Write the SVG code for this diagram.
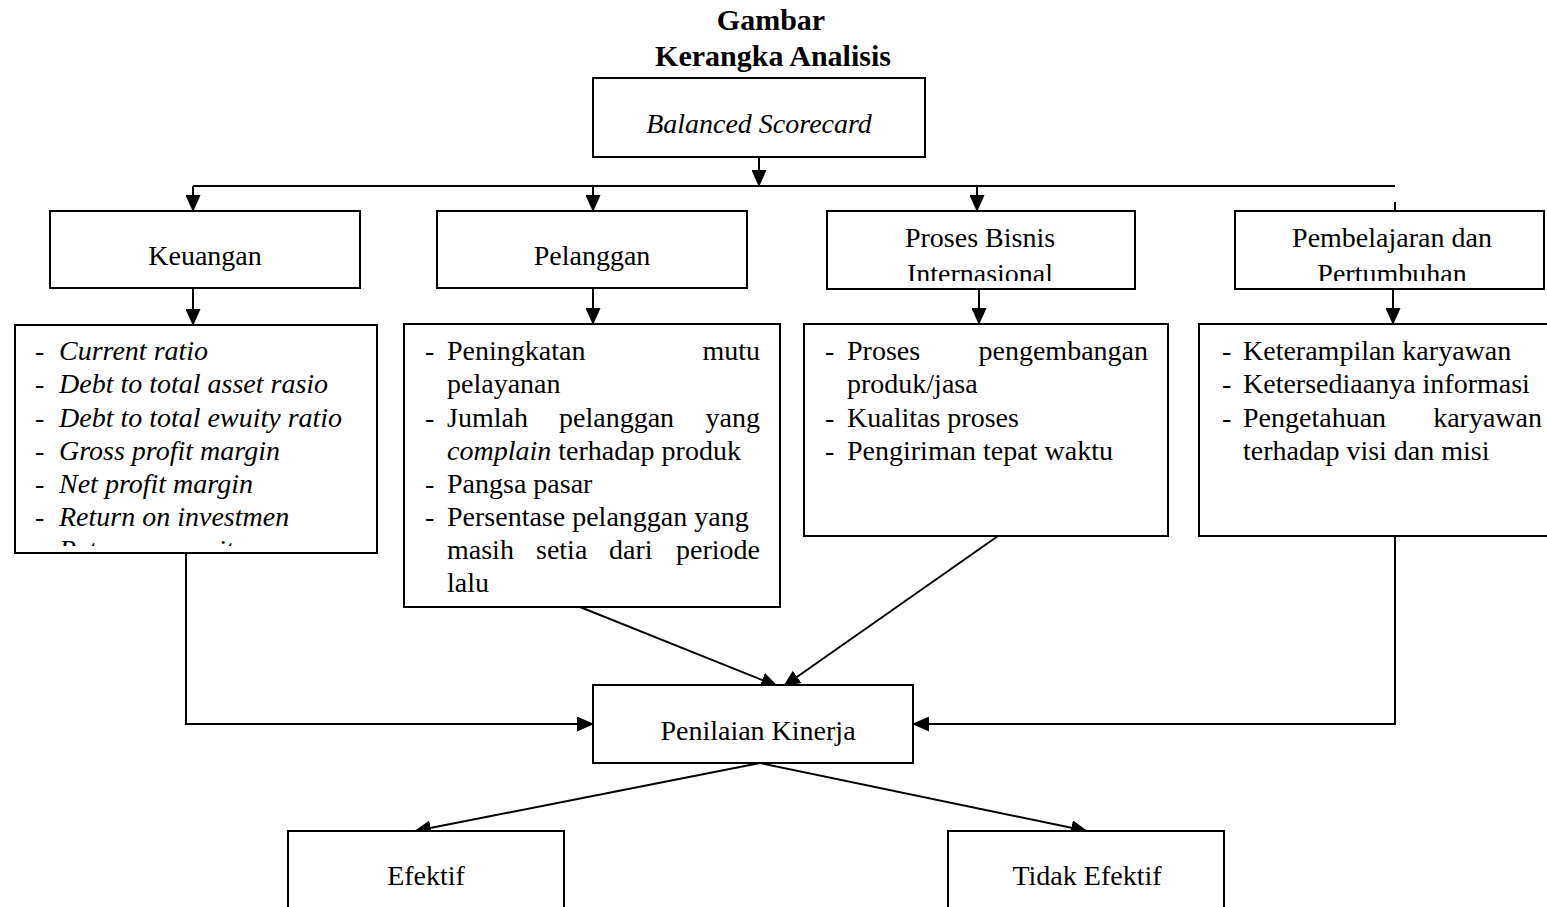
<svg xmlns="http://www.w3.org/2000/svg" width="1547" height="907" viewBox="0 0 1547 907">
<style>
text{font-family:"Liberation Serif","Times New Roman",serif;font-size:28px;fill:#000}
.t{font-size:30px;font-weight:bold;text-anchor:middle}
.c{text-anchor:middle}
.e{text-anchor:end}
.i{font-style:italic}
.box{fill:#fff;stroke:#000;stroke-width:2}
.ln{fill:none;stroke:#000;stroke-width:2}
</style>
<defs>
<marker id="ah" markerUnits="userSpaceOnUse" markerWidth="17" markerHeight="15" refX="16" refY="7.5" orient="auto">
<path d="M0,0 L17,7.5 L0,15 Z" fill="#000"/>
</marker>
<clipPath id="cpP"><rect x="827" y="211" width="308" height="70"/></clipPath>
<clipPath id="cpL"><rect x="1235" y="211" width="309" height="70"/></clipPath>
<clipPath id="cpK"><rect x="15" y="325" width="362" height="221"/></clipPath>
</defs>
<g id="title">
<text class="t" x="771" y="30">Gambar</text>
<text class="t" x="773" y="66">Kerangka Analisis</text>
</g>
<g id="connectors">
<path class="ln" d="M759,157 V186" marker-end="url(#ah)"/>
<path class="ln" d="M193,186 H1395 M1395,202 V211"/>
<path class="ln" d="M193,186 V211" marker-end="url(#ah)"/>
<path class="ln" d="M593,186 V211" marker-end="url(#ah)"/>
<path class="ln" d="M977,186 V211" marker-end="url(#ah)"/>
<path class="ln" d="M193,288 V325" marker-end="url(#ah)"/>
<path class="ln" d="M593,288 V324" marker-end="url(#ah)"/>
<path class="ln" d="M979,289 V324" marker-end="url(#ah)"/>
<path class="ln" d="M1393,289 V324" marker-end="url(#ah)"/>
<path class="ln" d="M186,553 V724 H593" marker-end="url(#ah)"/>
<path class="ln" d="M1395,536 V724 H913" marker-end="url(#ah)"/>
<path class="ln" d="M580,607 L777,686" marker-end="url(#ah)"/>
<path class="ln" d="M998,536 L784,686" marker-end="url(#ah)"/>
<path class="ln" d="M760,763 L415,831" marker-end="url(#ah)"/>
<path class="ln" d="M760,763 L1087,831" marker-end="url(#ah)"/>
</g>
<g id="bsc">
<rect class="box" x="593" y="78" width="332" height="79"/>
<text class="c i" x="759" y="133">Balanced Scorecard</text>
</g>
<g id="keuangan">
<rect class="box" x="50" y="211" width="310" height="77"/>
<text class="c" x="205" y="265">Keuangan</text>
</g>
<g id="pelanggan">
<rect class="box" x="437" y="211" width="310" height="77"/>
<text class="c" x="592" y="265">Pelanggan</text>
</g>
<g id="proses">
<rect class="box" x="827" y="211" width="308" height="78"/>
<g clip-path="url(#cpP)">
<text class="c" x="980" y="247">Proses Bisnis</text>
<text class="c" x="980" y="283">Internasional</text>
</g>
</g>
<g id="pembelajaran">
<rect class="box" x="1235" y="211" width="309" height="78"/>
<g clip-path="url(#cpL)">
<text class="c" x="1392" y="247">Pembelajaran dan</text>
<text class="c" x="1392" y="283">Pertumbuhan</text>
</g>
</g>
<g id="keuangan-list">
<rect class="box" x="15" y="325" width="362" height="228"/>
<g clip-path="url(#cpK)">
<text x="35" y="360">-</text><text class="i" x="59" y="360">Current ratio</text>
<text x="35" y="393">-</text><text class="i" x="59" y="393">Debt to total asset rasio</text>
<text x="35" y="427">-</text><text class="i" x="59" y="427">Debt to total ewuity ratio</text>
<text x="35" y="460">-</text><text class="i" x="59" y="460">Gross profit margin</text>
<text x="35" y="493">-</text><text class="i" x="59" y="493">Net profit margin</text>
<text x="35" y="526">-</text><text class="i" x="59" y="526">Return on investmen</text>
<text x="35" y="559">-</text><text class="i" x="59" y="559">Return on equity</text>
</g>
</g>
<g id="pelanggan-list">
<rect class="box" x="404" y="324" width="376" height="283"/>
<text x="425" y="360">-</text><text x="447" y="360">Peningkatan</text><text class="e" x="760" y="360">mutu</text>
<text x="447" y="393">pelayanan</text>
<text x="425" y="427">-</text><text x="447" y="427">Jumlah</text><text x="559" y="427">pelanggan</text><text class="e" x="760" y="427">yang</text>
<text x="447" y="460"><tspan font-style="italic">complain</tspan> terhadap produk</text>
<text x="425" y="493">-</text><text x="447" y="493">Pangsa pasar</text>
<text x="425" y="526">-</text><text x="447" y="526">Persentase pelanggan yang</text>
<text x="447" y="559">masih</text><text x="536" y="559">setia</text><text x="609" y="559">dari</text><text class="e" x="760" y="559">periode</text>
<text x="447" y="592">lalu</text>
</g>
<g id="proses-list">
<rect class="box" x="804" y="324" width="364" height="212"/>
<text x="825" y="360">-</text><text x="847" y="360">Proses</text><text class="e" x="1148" y="360">pengembangan</text>
<text x="847" y="393">produk/jasa</text>
<text x="825" y="427">-</text><text x="847" y="427">Kualitas proses</text>
<text x="825" y="460">-</text><text x="847" y="460">Pengiriman tepat waktu</text>
</g>
<g id="pembelajaran-list">
<rect class="box" x="1199" y="324" width="360" height="212"/>
<text x="1222" y="360">-</text><text x="1243" y="360">Keterampilan karyawan</text>
<text x="1222" y="393">-</text><text x="1243" y="393">Ketersediaanya informasi</text>
<text x="1222" y="427">-</text><text x="1243" y="427">Pengetahuan</text><text class="e" x="1542" y="427">karyawan</text>
<text x="1243" y="460">terhadap visi dan misi</text>
</g>
<g id="penilaian">
<rect class="box" x="593" y="685" width="320" height="78"/>
<text class="c" x="758" y="740">Penilaian Kinerja</text>
</g>
<g id="efektif">
<rect class="box" x="288" y="831" width="276" height="90"/>
<text class="c" x="426" y="885">Efektif</text>
</g>
<g id="tidak-efektif">
<rect class="box" x="948" y="831" width="276" height="90"/>
<text class="c" x="1087" y="885">Tidak Efektif</text>
</g>
</svg>
